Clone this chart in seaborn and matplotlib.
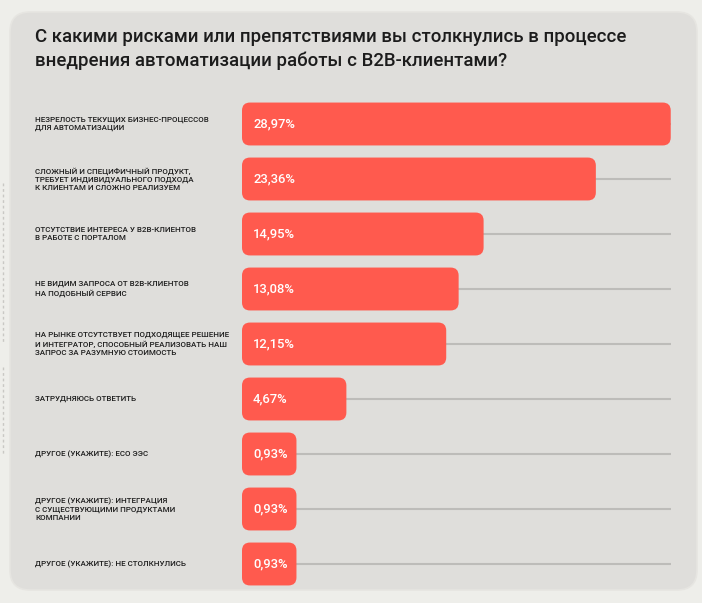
import numpy as np
import pandas as pd
import matplotlib
matplotlib.use("Agg")
import matplotlib.pyplot as plt
import seaborn as sns
from matplotlib.patches import FancyBboxPatch
from matplotlib import transforms

# ---- data ----
title = "С какими рисками или препятствиями вы столкнулись в процессе\nвнедрения автоматизации работы с B2B-клиентами?"
categories = [
    "НЕЗРЕЛОСТЬ ТЕКУЩИХ БИЗНЕС-ПРОЦЕССОВ\nДЛЯ АВТОМАТИЗАЦИИ",
    "СЛОЖНЫЙ И СПЕЦИФИЧНЫЙ ПРОДУКТ,\nТРЕБУЕТ ИНДИВИДУАЛЬНОГО ПОДХОДА\nК КЛИЕНТАМ И СЛОЖНО РЕАЛИЗУЕМ",
    "ОТСУТСТВИЕ ИНТЕРЕСА У B2B-КЛИЕНТОВ\nВ РАБОТЕ С ПОРТАЛОМ",
    "НЕ ВИДИМ ЗАПРОСА ОТ B2B-КЛИЕНТОВ\nНА ПОДОБНЫЙ СЕРВИС",
    "НА РЫНКЕ ОТСУТСТВУЕТ ПОДХОДЯЩЕЕ РЕШЕНИЕ\nИ ИНТЕГРАТОР, СПОСОБНЫЙ РЕАЛИЗОВАТЬ НАШ\nЗАПРОС ЗА РАЗУМНУЮ СТОИМОСТЬ",
    "ЗАТРУДНЯЮСЬ ОТВЕТИТЬ",
    "ДРУГОЕ (УКАЖИТЕ): ECO ЭЭС",
    "ДРУГОЕ (УКАЖИТЕ): ИНТЕГРАЦИЯ\nС СУЩЕСТВУЮЩИМИ ПРОДУКТАМИ\nКОМПАНИИ",
    "ДРУГОЕ (УКАЖИТЕ): НЕ СТОЛКНУЛИСЬ",
]
values = [28.97, 23.36, 14.95, 13.08, 12.15, 4.67, 0.93, 0.93, 0.93]

# ---- style ----
W, H, DPI = 702, 603, 100
OUTER_BG = "#eeeeea"
CARD = "#dfdedb"
BAR = "#ff5a4e"
LINE = "#bdbcb9"
TEXT = "#1c1c1c"

sns.set_theme(style="white")
plt.rcParams["font.family"] = ["Roboto", "DejaVu Sans"]

fig = plt.figure(figsize=(W / DPI, H / DPI), dpi=DPI)
fig.patch.set_facecolor(OUTER_BG)

# background axes in pixel coords
bg = fig.add_axes([0, 0, 1, 1], zorder=0)
bg.set_xlim(0, W)
bg.set_ylim(H, 0)
bg.axis("off")
bg.add_patch(FancyBboxPatch((10, 12), 687, 578,
                            boxstyle="round,pad=0,rounding_size=20",
                            facecolor=CARD, edgecolor="#e6e5e1", linewidth=1.2))
bg.plot([3, 3], [183, 342], color="#c9c8c4", lw=1.0, ls=(0, (2, 2)))
bg.plot([3, 3], [367, 455], color="#c9c8c4", lw=1.0, ls=(0, (2, 2)))

# bar axes
x0_px, x1_px = 242, 671
y0_px, y1_px = 96.5, 591.5
ax = fig.add_axes([x0_px / W, 1 - y1_px / H, (x1_px - x0_px) / W, (y1_px - y0_px) / H], zorder=1)
ax.patch.set_alpha(0)

PAD = 3.15  # left extension of bars (data units), a visual minimum width
df = pd.DataFrame({"cat": categories, "val": values})
sns.barplot(data=df, x="val", y="cat", orient="h", width=0.78, color=BAR,
            ax=ax, zorder=3)
ax.set_xlim(-PAD, max(values) + 0.02)
ax.set_ylim(len(values) - 0.5, -0.5)
ax.axis("off")

# grey guide lines
for i in range(len(values)):
    ax.plot([-PAD, max(values)], [i, i], color=LINE, lw=1.5, zorder=1,
            solid_capstyle="butt")

# rounded bars
xs_per_px = (max(values) + 0.02 + PAD) / (x1_px - x0_px)
ys_per_px = len(values) / (y1_px - y0_px)
r_px = 8
for p in list(ax.patches):
    x, y = p.get_x(), p.get_y()
    w, h = p.get_width(), p.get_height()
    p.remove()
    fb = FancyBboxPatch((x - PAD, y), w + PAD, h,
                        boxstyle=f"round,pad=0,rounding_size={r_px * xs_per_px}",
                        mutation_aspect=ys_per_px / xs_per_px,
                        facecolor=BAR, edgecolor="none", zorder=3)
    ax.add_patch(fb)

# value labels
for i, v in enumerate(values):
    lab = f"{v:.2f}".replace(".", ",") + "%"
    ax.annotate(lab, xy=(-PAD, i), xytext=(8.0, 0), textcoords="offset points",
                ha="left", va="center", color="white", fontsize=9.4,
                fontweight="medium", zorder=4)

# category labels
tr = transforms.blended_transform_factory(fig.transFigure, ax.transData)
for i, c in enumerate(categories):
    fig.text(35 / W, i, c, transform=tr, ha="left", va="center",
             multialignment="left", fontsize=5.75, fontweight="medium",
             color=TEXT, linespacing=1.38)

# title
fig.text(35 / W, 1 - 28 / H, title, ha="left", va="top", fontsize=13.4,
         fontweight="medium", color=TEXT, linespacing=1.4)

fig.savefig("out.png", dpi=DPI, facecolor=OUTER_BG)
